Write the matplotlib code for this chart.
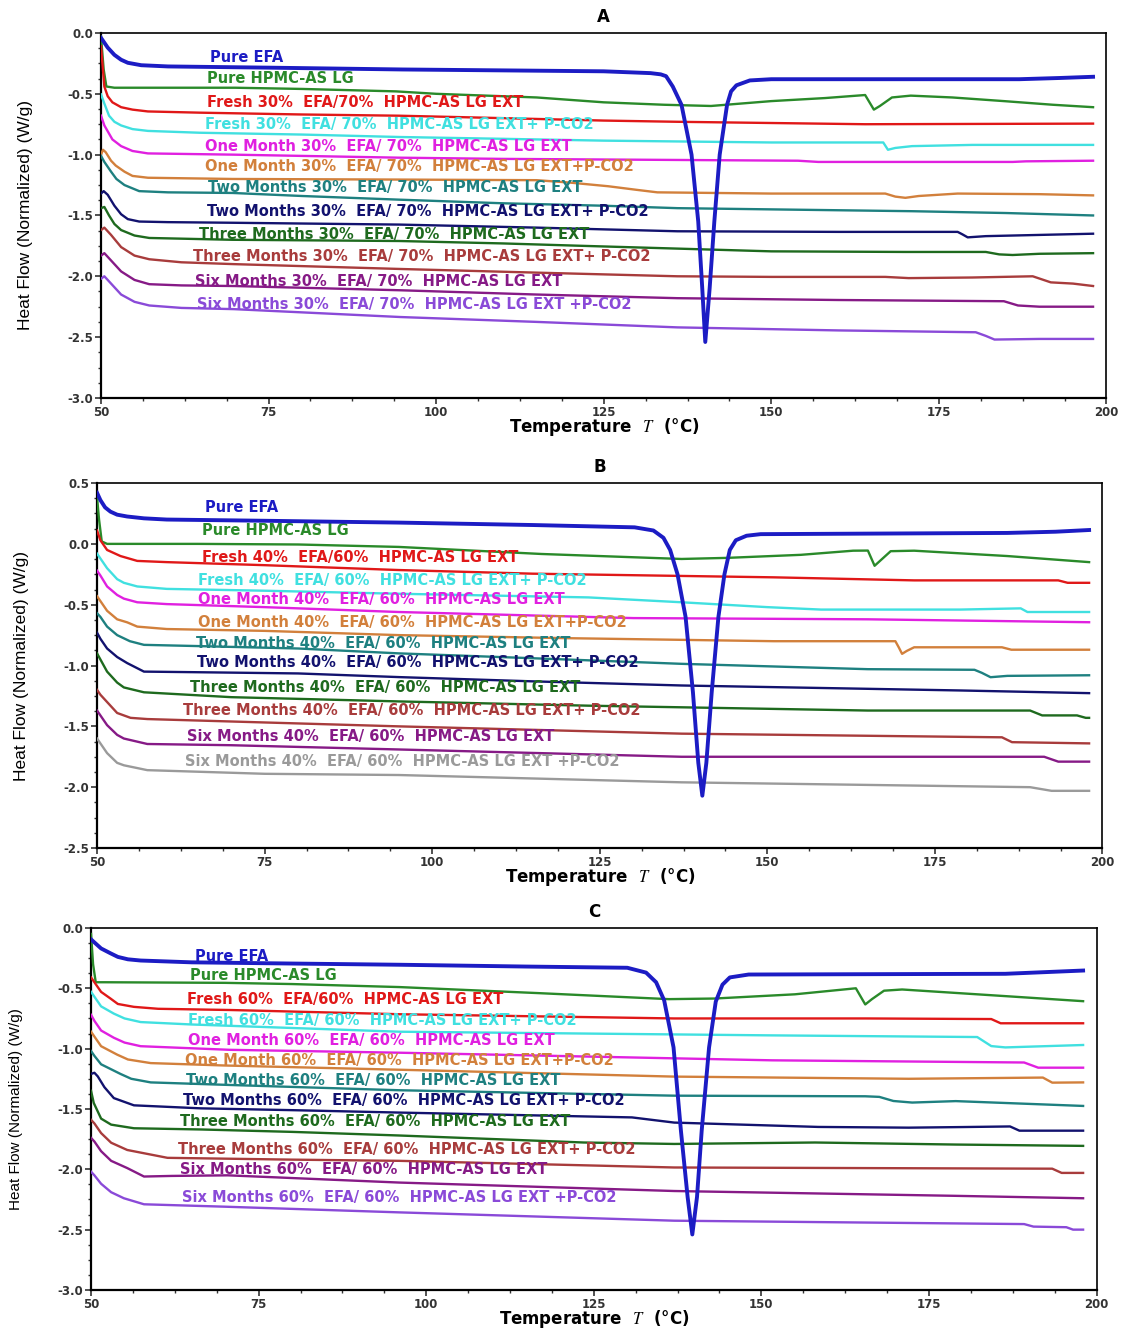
import matplotlib
matplotlib.use("Agg")
import matplotlib.pyplot as plt
from matplotlib.ticker import MultipleLocator, AutoMinorLocator, FormatStrFormatter

plt.rcParams["axes.unicode_minus"] = False
plt.rcParams["mathtext.fontset"] = "stix"

# colours of the 12 traces (panel B uses grey for the last one)
colors = ["#1c1cc4", "#2a8a2a", "#e01818", "#40e0e0", "#e020e0", "#d2803c",
          "#1e8080", "#12126e", "#1e6a1e", "#a83c3c", "#861a86", "#8a4ad8"]
colors_b = colors[:11] + ["#9a9a9a"]

# ---------------- panel A : 30% EFA / 70% HPMC-AS LG ----------------
a_efa = [(50, -0.04), (50.5, -0.08), (51, -0.12), (52, -0.18), (53, -0.22), (54, -0.245),
         (56, -0.265), (60, -0.275), (75, -0.285), (95, -0.30), (115, -0.31), (125, -0.315),
         (132, -0.33), (133.5, -0.34), (134.3, -0.355), (135.3, -0.44), (136.6, -0.59),
         (138.1, -1.0), (139.1, -1.55), (139.7, -2.1), (140.15, -2.54), (140.8, -2.1),
         (141.5, -1.55), (142.3, -1.0), (143.4, -0.59), (144.0, -0.48), (144.8, -0.43),
         (146.8, -0.39), (150, -0.38), (187, -0.38), (193, -0.37), (198, -0.36)]
a_hpmc = [(50, -0.03), (50.4, -0.3), (50.8, -0.44), (52, -0.45), (70, -0.45), (80, -0.46),
          (94, -0.48), (100, -0.50), (115, -0.53), (125, -0.57), (134, -0.59), (141, -0.60),
          (150, -0.56), (158, -0.535), (164, -0.51), (165.3, -0.63), (166.2, -0.6),
          (168, -0.53), (170.8, -0.515), (177, -0.53), (184.7, -0.56), (192, -0.59), (198, -0.61)]
a_fresh = [(50, -0.11), (50.5, -0.44), (51, -0.52), (51.7, -0.57), (53, -0.61), (54.7, -0.63),
           (57, -0.645), (64.7, -0.655), (80, -0.67), (94.5, -0.68), (110, -0.70), (125, -0.72),
           (136, -0.73), (150, -0.74), (164, -0.75), (198, -0.745)]
a_fresh_co2 = [(50, -0.505), (50.5, -0.58), (51.2, -0.68), (52, -0.73), (53, -0.76),
               (54.7, -0.79), (57, -0.805), (64.7, -0.82), (80, -0.835), (94.5, -0.855),
               (110, -0.87), (125, -0.885), (150, -0.90), (166.7, -0.90), (167.4, -0.96),
               (168.5, -0.945), (171, -0.93), (180, -0.92), (198, -0.92)]
a_one = [(50, -0.68), (50.5, -0.76), (51.7, -0.875), (53, -0.93), (54.7, -0.97), (57, -0.99),
         (69.6, -1.0), (94.5, -1.025), (110, -1.035), (125, -1.04), (154, -1.05), (157, -1.06),
         (175, -1.06), (186, -1.06), (188, -1.055), (198, -1.05)]
a_one_co2 = [(50, -1.0), (50.3, -0.96), (50.7, -0.98), (51.5, -1.05), (52.2, -1.09),
             (53.5, -1.14), (54.7, -1.175), (57, -1.19), (69.6, -1.2), (94.5, -1.205),
             (115, -1.21), (120, -1.23), (125.7, -1.26), (130, -1.29), (133, -1.31),
             (150, -1.32), (167, -1.32), (168.5, -1.345), (170, -1.355), (172, -1.34),
             (177.8, -1.32), (190, -1.325), (198, -1.335)]
a_two = [(50, -1.01), (50.5, -1.06), (51.5, -1.14), (52.3, -1.2), (53.5, -1.25), (55.7, -1.3),
         (60, -1.31), (69.6, -1.315), (80, -1.34), (94.4, -1.37), (110, -1.4), (125, -1.42),
         (136, -1.44), (150, -1.45), (171, -1.465), (185, -1.48), (198, -1.5)]
a_two_co2 = [(50, -1.32), (50.4, -1.3), (51, -1.33), (52, -1.42), (53, -1.49), (54, -1.53),
             (55.7, -1.55), (60, -1.555), (69.6, -1.56), (94.5, -1.575), (115, -1.6),
             (136, -1.63), (160, -1.635), (177.8, -1.635), (178.5, -1.655), (179.3, -1.68),
             (182, -1.67), (198, -1.65)]
a_three = [(50, -1.44), (50.5, -1.43), (51.2, -1.5), (52, -1.57), (53, -1.62), (55, -1.665),
           (57.2, -1.685), (69.6, -1.70), (94.5, -1.71), (110, -1.73), (122, -1.75),
           (150, -1.795), (170, -1.80), (182, -1.80), (184, -1.82), (186, -1.825),
           (190, -1.815), (198, -1.81)]
a_three_co2 = [(50, -1.62), (50.5, -1.6), (51.5, -1.66), (53, -1.76), (55, -1.83),
               (57.2, -1.86), (62, -1.885), (69.8, -1.9), (94.7, -1.94), (115, -1.97),
               (136, -2.0), (150, -2.005), (167, -2.005), (170.5, -2.015), (180, -2.01),
               (189, -2.0), (191.7, -2.05), (195, -2.06), (198, -2.08)]
a_six = [(50, -1.83), (50.5, -1.81), (51.5, -1.87), (53, -1.96), (55, -2.03), (57.2, -2.065),
         (62, -2.075), (69.8, -2.08), (94.7, -2.115), (115, -2.15), (136, -2.18),
         (160, -2.195), (184.7, -2.205), (186.8, -2.24), (190, -2.25), (198, -2.25)]
a_six_co2 = [(50, -2.02), (50.5, -2.0), (51.5, -2.06), (53, -2.15), (55, -2.21), (57.2, -2.24),
             (62, -2.26), (69.8, -2.27), (94.7, -2.335), (115, -2.375), (136, -2.42),
             (160, -2.445), (180.5, -2.46), (182, -2.49), (183.3, -2.52), (190, -2.515),
             (198, -2.515)]

a_labels = ["Pure EFA", "Pure HPMC-AS LG",
            "Fresh 30%  EFA/70%  HPMC-AS LG EXT",
            "Fresh 30%  EFA/ 70%  HPMC-AS LG EXT+ P-CO2",
            "One Month 30%  EFA/ 70%  HPMC-AS LG EXT",
            "One Month 30%  EFA/ 70%  HPMC-AS LG EXT+P-CO2",
            "Two Months 30%  EFA/ 70%  HPMC-AS LG EXT",
            "Two Months 30%  EFA/ 70%  HPMC-AS LG EXT+ P-CO2",
            "Three Months 30%  EFA/ 70%  HPMC-AS LG EXT",
            "Three Months 30%  EFA/ 70%  HPMC-AS LG EXT+ P-CO2",
            "Six Months 30%  EFA/ 70%  HPMC-AS LG EXT",
            "Six Months 30%  EFA/ 70%  HPMC-AS LG EXT +P-CO2"]
a_label_x = [66.3, 65.8, 65.8, 65.5, 65.5, 65.5, 66.0, 65.8, 64.6, 63.7, 64.0, 64.3]
a_label_y = [-0.205, -0.378, -0.575, -0.756, -0.93, -1.10, -1.27, -1.47, -1.66, -1.84, -2.04, -2.235]

# ---------------- panel B : 40% EFA / 60% HPMC-AS LG ----------------
b_efa = [(50, 0.42), (50.5, 0.36), (51.2, 0.3), (52, 0.265), (53, 0.24), (54.5, 0.225),
         (57, 0.21), (60.4, 0.20), (75, 0.19), (95, 0.175), (115, 0.155), (130.2, 0.136),
         (133, 0.11), (134.5, 0.05), (135.5, -0.05), (136.6, -0.25), (137.8, -0.6),
         (138.9, -1.22), (139.7, -1.8), (140.3, -2.07), (140.9, -1.8), (141.7, -1.22),
         (142.7, -0.6), (143.6, -0.25), (144.4, -0.05), (145.3, 0.03), (146.9, 0.067),
         (149, 0.08), (185.8, 0.09), (193, 0.1), (198, 0.114)]
b_hpmc = [(50, 0.38), (50.3, 0.2), (50.7, 0.02), (51.5, 0.0), (65, 0.0), (80, -0.005),
          (95, -0.025), (116.3, -0.083), (137.2, -0.124), (144, -0.115), (155, -0.09),
          (162.8, -0.056), (165, -0.055), (166, -0.18), (167, -0.13), (168.4, -0.06),
          (171.9, -0.056), (185.8, -0.1), (198, -0.15)]
b_fresh = [(50, 0.11), (50.5, 0.03), (51.5, -0.05), (53.5, -0.1), (56, -0.14), (60.4, -0.15),
           (75, -0.175), (95, -0.215), (115, -0.245), (151, -0.275), (171.9, -0.30),
           (193.4, -0.30), (194.8, -0.32), (198, -0.32)]
b_fresh_co2 = [(50, -0.08), (50.5, -0.12), (51.5, -0.2), (53, -0.29), (54, -0.32), (56, -0.35),
               (60.4, -0.37), (75, -0.385), (95, -0.41), (123.3, -0.44), (137.2, -0.48),
               (150, -0.52), (158, -0.54), (178.8, -0.54), (187.8, -0.53), (188.8, -0.56),
               (198, -0.56)]
b_one = [(50, -0.22), (50.5, -0.26), (51.5, -0.35), (53, -0.42), (54, -0.45), (56, -0.48),
         (60.4, -0.495), (75, -0.52), (95, -0.56), (130, -0.61), (165, -0.62), (198, -0.644)]
b_one_co2 = [(50, -0.43), (50.5, -0.47), (51.5, -0.55), (53, -0.62), (54.5, -0.645),
             (56, -0.68), (60.4, -0.70), (75, -0.715), (95, -0.75), (120, -0.775),
             (151, -0.80), (169.1, -0.80), (169.6, -0.85), (170.1, -0.904), (170.8, -0.88),
             (171.9, -0.85), (185, -0.85), (186.4, -0.87), (198, -0.87)]
b_two = [(50, -0.57), (50.5, -0.6), (51.5, -0.68), (53, -0.75), (54.9, -0.8), (57, -0.83),
         (65, -0.84), (80, -0.86), (95, -0.9), (115, -0.94), (137.2, -0.986), (165, -1.03),
         (180.9, -1.035), (182, -1.06), (183.3, -1.096), (185.8, -1.085), (198, -1.08)]
b_two_co2 = [(50, -0.73), (50.5, -0.78), (51.5, -0.86), (53, -0.93), (54.5, -0.98),
             (57, -1.05), (65, -1.055), (80, -1.065), (95, -1.095), (115, -1.13),
             (137.2, -1.164), (178.8, -1.205), (198, -1.227)]
b_three = [(50, -0.9), (50.5, -0.95), (51.5, -1.05), (53, -1.14), (54, -1.18), (57, -1.22),
           (70, -1.26), (95, -1.295), (123.3, -1.33), (165, -1.37), (189.2, -1.37),
           (191, -1.41), (196.2, -1.41), (197.5, -1.43), (198, -1.43)]
b_three_co2 = [(50, -1.2), (50.5, -1.24), (51.5, -1.3), (53, -1.39), (55, -1.43),
               (57.5, -1.44), (70, -1.46), (95, -1.5), (137.2, -1.56), (185, -1.59),
               (186.5, -1.63), (198, -1.64)]
b_six = [(50, -1.37), (50.5, -1.41), (51.5, -1.49), (53, -1.57), (54, -1.6), (57.5, -1.645),
         (70, -1.655), (95, -1.69), (137.2, -1.75), (191.3, -1.75), (193.4, -1.79), (198, -1.79)]
b_six_co2 = [(50, -1.6), (50.5, -1.64), (51.5, -1.72), (53, -1.8), (54, -1.82), (57.5, -1.86),
             (75, -1.89), (95, -1.9), (137.2, -1.96), (189.2, -2.0), (192.4, -2.03), (198, -2.03)]

b_labels = ["Pure EFA", "Pure HPMC-AS LG",
            "Fresh 40%  EFA/60%  HPMC-AS LG EXT",
            "Fresh 40%  EFA/ 60%  HPMC-AS LG EXT+ P-CO2",
            "One Month 40%  EFA/ 60%  HPMC-AS LG EXT",
            "One Month 40%  EFA/ 60%  HPMC-AS LG EXT+P-CO2",
            "Two Months 40%  EFA/ 60%  HPMC-AS LG EXT",
            "Two Months 40%  EFA/ 60%  HPMC-AS LG EXT+ P-CO2",
            "Three Months 40%  EFA/ 60%  HPMC-AS LG EXT",
            "Three Months 40%  EFA/ 60%  HPMC-AS LG EXT+ P-CO2",
            "Six Months 40%  EFA/ 60%  HPMC-AS LG EXT",
            "Six Months 40%  EFA/ 60%  HPMC-AS LG EXT +P-CO2"]
b_label_x = [66.1, 65.7, 65.7, 65.1, 65.1, 65.1, 64.8, 64.9, 63.9, 62.8, 63.4, 63.1]
b_label_y = [0.295, 0.114, -0.108, -0.297, -0.461, -0.65, -0.815, -0.979, -1.184, -1.373, -1.587, -1.79]

# ---------------- panel C : 60% EFA ----------------
c_efa = [(50, -0.095), (50.5, -0.12), (51.5, -0.17), (52.9, -0.21), (54, -0.24), (55.5, -0.26),
         (57.4, -0.27), (65, -0.285), (80, -0.295), (96, -0.305), (115, -0.32), (130, -0.33),
         (132.8, -0.37), (134.3, -0.45), (135.5, -0.6), (136.9, -0.99), (138, -1.68),
         (139, -2.23), (139.7, -2.54), (140.4, -2.23), (141.1, -1.68), (142.2, -0.99),
         (143.2, -0.61), (144.2, -0.47), (145.3, -0.41), (148.1, -0.386), (186.4, -0.38),
         (198, -0.353)]
c_hpmc = [(50, -0.05), (50.3, -0.3), (50.7, -0.45), (52, -0.45), (70, -0.455), (80, -0.465),
          (96, -0.49), (116.7, -0.54), (136.2, -0.59), (143, -0.585), (155, -0.55),
          (164.1, -0.5), (165.5, -0.634), (166.5, -0.59), (168.3, -0.52), (171, -0.51),
          (186.4, -0.565), (198, -0.607)]
c_fresh = [(50, -0.41), (50.5, -0.45), (51.5, -0.53), (52.9, -0.585), (54, -0.63),
           (56.4, -0.654), (60, -0.67), (70.7, -0.68), (96, -0.715), (137, -0.75),
           (165.5, -0.75), (184.3, -0.755), (185.7, -0.79), (198, -0.79)]
c_fresh_co2 = [(50, -0.53), (50.5, -0.57), (51.5, -0.65), (53.4, -0.71), (55, -0.75),
               (57.4, -0.78), (65, -0.8), (96, -0.86), (151, -0.89), (182.2, -0.904),
               (184.3, -0.979), (186.4, -0.99), (198, -0.97)]
c_one = [(50, -0.72), (50.5, -0.77), (51.5, -0.85), (53.4, -0.91), (55, -0.95), (57.4, -0.98),
         (70.7, -1.01), (96, -1.034), (151.6, -1.097), (189.2, -1.115), (191.3, -1.158),
         (198, -1.158)]
c_one_co2 = [(50, -0.86), (50.5, -0.9), (51.5, -0.98), (53.9, -1.05), (55.5, -1.09),
             (58.9, -1.12), (70, -1.14), (96, -1.175), (137, -1.232), (172, -1.25),
             (192, -1.24), (193.4, -1.282), (198, -1.28)]
c_two = [(50, -1.02), (50.5, -1.06), (51.5, -1.13), (54.4, -1.21), (56, -1.25), (58.9, -1.28),
         (70, -1.3), (96, -1.345), (137, -1.39), (165.5, -1.395), (167.6, -1.4),
         (169.7, -1.434), (172.5, -1.447), (179, -1.435), (198, -1.475)]
c_two_co2 = [(50, -1.21), (50.5, -1.2), (51, -1.23), (52, -1.32), (53.4, -1.41), (56.4, -1.47),
             (66.4, -1.495), (80, -1.51), (96, -1.53), (130.7, -1.57), (137, -1.613),
             (158.5, -1.649), (172, -1.655), (180, -1.65), (187.1, -1.645), (188.5, -1.68),
             (198, -1.68)]
c_three = [(50, -1.35), (50.4, -1.45), (51.5, -1.58), (53, -1.63), (56.4, -1.66),
           (66.4, -1.67), (80, -1.69), (96, -1.72), (123.5, -1.778), (137, -1.79),
           (158, -1.778), (179, -1.795), (198, -1.806)]
c_three_co2 = [(50, -1.59), (50.5, -1.62), (51.5, -1.7), (53, -1.78), (55.4, -1.84),
               (61.4, -1.905), (80, -1.92), (96, -1.93), (137, -1.985), (193.4, -1.995),
               (194.8, -2.03), (198, -2.03)]
c_six = [(50, -1.74), (50.5, -1.77), (51.5, -1.85), (53, -1.93), (55.4, -1.99), (57.9, -2.06),
         (62, -2.055), (70.4, -2.05), (96, -2.11), (137, -2.18), (179, -2.22), (198, -2.24)]
c_six_co2 = [(50, -2.02), (50.5, -2.05), (51.5, -2.12), (53, -2.19), (54.9, -2.24),
             (57.9, -2.29), (70, -2.31), (96, -2.357), (137, -2.426), (189.2, -2.454),
             (190.6, -2.475), (195.5, -2.48), (196.5, -2.5), (198, -2.5)]

c_labels = ["Pure EFA", "Pure HPMC-AS LG",
            "Fresh 60%  EFA/60%  HPMC-AS LG EXT",
            "Fresh 60%  EFA/ 60%  HPMC-AS LG EXT+ P-CO2",
            "One Month 60%  EFA/ 60%  HPMC-AS LG EXT",
            "One Month 60%  EFA/ 60%  HPMC-AS LG EXT+P-CO2",
            "Two Months 60%  EFA/ 60%  HPMC-AS LG EXT",
            "Two Months 60%  EFA/ 60%  HPMC-AS LG EXT+ P-CO2",
            "Three Months 60%  EFA/ 60%  HPMC-AS LG EXT",
            "Three Months 60%  EFA/ 60%  HPMC-AS LG EXT+ P-CO2",
            "Six Months 60%  EFA/ 60%  HPMC-AS LG EXT",
            "Six Months 60%  EFA/ 60%  HPMC-AS LG EXT +P-CO2"]
c_label_x = [65.5, 64.8, 64.3, 64.4, 64.4, 64.0, 64.2, 63.7, 63.3, 63.0, 63.3, 63.6]
c_label_y = [-0.24, -0.39, -0.597, -0.77, -0.93, -1.10, -1.268, -1.433, -1.607, -1.84, -2.005, -2.237]

panels = [
    ("A", [a_efa, a_hpmc, a_fresh, a_fresh_co2, a_one, a_one_co2, a_two, a_two_co2,
           a_three, a_three_co2, a_six, a_six_co2], a_labels, a_label_x, a_label_y,
     colors, (-3.0, 0.0), [0.0893, 0.7008, 0.889, 0.2744], 12.5),
    ("B", [b_efa, b_hpmc, b_fresh, b_fresh_co2, b_one, b_one_co2, b_two, b_two_co2,
           b_three, b_three_co2, b_six, b_six_co2], b_labels, b_label_x, b_label_y,
     colors_b, (-2.5, 0.5), [0.0858, 0.3624, 0.889, 0.2744], 12.5),
    ("C", [c_efa, c_hpmc, c_fresh, c_fresh_co2, c_one, c_one_co2, c_two, c_two_co2,
           c_three, c_three_co2, c_six, c_six_co2], c_labels, c_label_x, c_label_y,
     colors, (-3.0, 0.0), [0.0805, 0.0301, 0.889, 0.2722], 11),
]

fig = plt.figure(figsize=(11.31, 13.3), dpi=100)

for title, curves, labels, lx, ly, cols, ylim, pos, ylab_size in panels:
    ax = fig.add_axes(pos)
    for i, pts in enumerate(curves):
        t = [p[0] for p in pts]
        y = [p[1] for p in pts]
        if i == 0:
            ax.plot(t, y, color=cols[i], lw=2.8, zorder=5, solid_joinstyle="round")
        else:
            ax.plot(t, y, color=cols[i], lw=1.7, zorder=3, solid_joinstyle="round")
    for i, lab in enumerate(labels):
        ax.text(lx[i], ly[i], lab, color=cols[i], fontsize=10.5, fontweight="bold",
                va="center", ha="left", zorder=4)

    ax.set_xlim(50, 200)
    ax.set_ylim(*ylim)
    ax.xaxis.set_major_locator(MultipleLocator(25))
    ax.xaxis.set_minor_locator(AutoMinorLocator(4))
    ax.yaxis.set_major_locator(MultipleLocator(0.5))
    ax.yaxis.set_minor_locator(AutoMinorLocator(4))
    ax.yaxis.set_major_formatter(FormatStrFormatter("%.1f"))
    ax.tick_params(which="major", length=4, width=1.2, labelsize=8.5, colors="#333333", pad=1.5)
    ax.tick_params(which="minor", length=2.5, width=1.0, colors="#333333")
    for lbl in ax.get_xticklabels() + ax.get_yticklabels():
        lbl.set_fontweight("bold")
    for side in ["left", "bottom"]:
        ax.spines[side].set_linewidth(1.6)
    for side in ["top", "right"]:
        ax.spines[side].set_linewidth(1.2)

    ax.set_title(title, fontsize=12, fontweight="bold", pad=8)
    ax.set_xlabel(r"Temperature  $\mathit{T}$  (°C)", fontsize=12, fontweight="bold",
                  va="top")
    ax.xaxis.set_label_coords(0.5, -0.05)
    ax.set_ylabel("Heat Flow (Normalized) (W/g)", fontsize=ylab_size,
                  family="Liberation Sans", va="center")
    ax.yaxis.set_label_coords(-0.075, 0.5)

fig.savefig("out.png", dpi=100)
